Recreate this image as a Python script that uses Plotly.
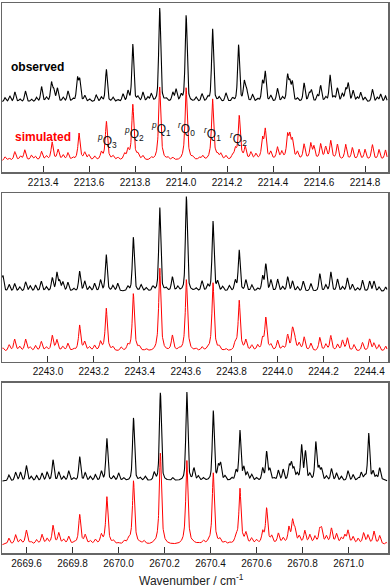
import numpy as np
import plotly.graph_objects as go

# ---------------- data (peak centres in cm^-1, peak heights in arbitrary units) -------------
# Panel 1 : 2213.2 - 2214.9
p1_range = [2213.221, 2214.900]
p1_ticks = [2213.4, 2213.6, 2213.8, 2214.0, 2214.2, 2214.4, 2214.6, 2214.8]
p1_obs_base = 70.3
p1_obs_pos = [2213.234, 2213.255, 2213.277, 2213.299, 2213.323, 2213.349, 2213.371, 2213.393, 2213.414,
              2213.436, 2213.446, 2213.462, 2213.487, 2213.508, 2213.530, 2213.549, 2213.559, 2213.581,
              2213.602, 2213.631, 2213.653, 2213.675, 2213.704, 2213.725, 2213.747, 2213.769, 2213.790,
              2213.812, 2213.834, 2213.855, 2213.870, 2213.907, 2213.935, 2213.964, 2213.978, 2214.000,
              2214.022, 2214.065, 2214.091, 2214.116, 2214.137, 2214.166, 2214.195, 2214.224, 2214.250,
              2214.275, 2214.285, 2214.311, 2214.333, 2214.354, 2214.366, 2214.390, 2214.419, 2214.441,
              2214.463, 2214.473, 2214.484, 2214.506, 2214.535, 2214.557, 2214.567, 2214.593, 2214.607,
              2214.629, 2214.648, 2214.665, 2214.680, 2214.701, 2214.716, 2214.727, 2214.748, 2214.766,
              2214.781, 2214.800, 2214.832, 2214.853, 2214.868, 2214.889]
p1_obs_amp = [4.3, 6, 10, 2.7, 11, 2.7, 4.3, 15.3, 4.3,
              18.7, 11, 13.3, 4.3, 10.7, 2.7, 22.7, 21, 6,
              2.7, 6.7, 4.3, 32.7, 4.3, 2, 7.7, 10, 57.7,
              4.3, 9.3, 4.3, 7.7, 94.3, 2.7, 8.7, 12, 6,
              87, 4.3, 7.7, 4.3, 73.3, 4.3, 8.7, 3.3, 57,
              19.3, 11, 6.7, 2.7, 19.3, 29.3, 6, 13.3, 4.3,
              25.3, 17.7, 18.7, 3.3, 18.7, 7.7, 11, 6, 16,
              4.3, 26.7, 4.3, 13.3, 7.7, 12, 17.7, 11, 4.3,
              9.3, 4.3, 12.7, 4.3, 7.7, 6]
p1_sim_base = 10.8
p1_sim_pos = [2213.234, 2213.252, 2213.277, 2213.301, 2213.320, 2213.349, 2213.366, 2213.393, 2213.414,
              2213.439, 2213.465, 2213.487, 2213.508, 2213.530, 2213.556, 2213.581, 2213.599, 2213.624,
              2213.653, 2213.675, 2213.704, 2213.725, 2213.754, 2213.769, 2213.790, 2213.812, 2213.834,
              2213.870, 2213.907, 2213.942, 2213.964, 2214.022, 2214.051, 2214.079, 2214.094, 2214.137,
              2214.159, 2214.173, 2214.195, 2214.224, 2214.236, 2214.253, 2214.279, 2214.304, 2214.325,
              2214.354, 2214.366, 2214.390, 2214.419, 2214.438, 2214.463, 2214.473, 2214.484, 2214.506,
              2214.535, 2214.564, 2214.578, 2214.607, 2214.629, 2214.651, 2214.680, 2214.716, 2214.745,
              2214.774, 2214.800, 2214.832, 2214.861, 2214.889]
p1_sim_amp = [4.3, 2.7, 9.3, 4.3, 11, 5.3, 4.3, 9.3, 4.3,
              18.7, 11, 5.3, 7.7, 2.7, 27.7, 7.7, 5.3, 4.3,
              7.7, 39.3, 4.3, 2.7, 6, 9.3, 56, 5.3, 4.3,
              2.7, 74.3, 2.7, 2.7, 73.7, 2.7, 2.7, 4.3, 62,
              4.3, 6, 4.3, 4.3, 9.3, 44.3, 12.7, 7.7, 6,
              19.3, 29.3, 7.7, 12.7, 7.7, 22, 20, 17.7, 7.7,
              16, 16, 12.7, 16, 12.7, 19.3, 16, 16, 12.7,
              11, 11, 16, 11, 11]

# Panel 2 : 2242.8 - 2244.5
p2_range = [2242.800, 2244.481]
p2_ticks = [2243.0, 2243.2, 2243.4, 2243.6, 2243.8, 2244.0, 2244.2, 2244.4]
p2_obs_base = 70.3
p2_obs_pos = [2242.804, 2242.831, 2242.855, 2242.877, 2242.903, 2242.923, 2242.946, 2242.971, 2242.993,
              2243.019, 2243.039, 2243.051, 2243.065, 2243.087, 2243.112, 2243.138, 2243.160, 2243.181,
              2243.203, 2243.229, 2243.254, 2243.283, 2243.304, 2243.348, 2243.372, 2243.406, 2243.428,
              2243.457, 2243.487, 2243.515, 2243.542, 2243.565, 2243.603, 2243.645, 2243.671, 2243.696,
              2243.719, 2243.739, 2243.761, 2243.790, 2243.816, 2243.833, 2243.862, 2243.888, 2243.913,
              2243.935, 2243.949, 2243.971, 2244.000, 2244.022, 2244.044, 2244.065, 2244.087, 2244.112,
              2244.145, 2244.184, 2244.210, 2244.232, 2244.261, 2244.283, 2244.304, 2244.326, 2244.348,
              2244.370, 2244.401, 2244.420, 2244.442, 2244.471]
p2_obs_amp = [16, 6.7, 7.7, 4.3, 9.3, 5.3, 6, 10, 4.3,
              13.3, 18.3, 9.3, 8.7, 8.7, 2.7, 20, 10, 4.3,
              7.7, 11, 36.7, 5.3, 7.7, 4.3, 54.3, 6, 3.3,
              4.3, 84.3, 2.7, 14, 4.3, 95.3, 2.7, 10, 5.3,
              70, 8.7, 4.3, 5.3, 10, 41, 11, 6, 2.7,
              14.3, 26.7, 11, 12, 4.3, 14.3, 10, 4.3, 10,
              7.7, 17.7, 6, 19.3, 12, 4.3, 13.3, 6.7, 3.3,
              11, 10, 10, 4.3, 4.3]
p2_sim_base = 9.4
p2_sim_pos = [2242.804, 2242.831, 2242.855, 2242.877, 2242.903, 2242.923, 2242.946, 2242.971, 2242.993,
              2243.019, 2243.039, 2243.065, 2243.087, 2243.112, 2243.138, 2243.160, 2243.181, 2243.203,
              2243.229, 2243.254, 2243.283, 2243.319, 2243.348, 2243.372, 2243.398, 2243.428, 2243.487,
              2243.542, 2243.572, 2243.603, 2243.645, 2243.671, 2243.696, 2243.719, 2243.746, 2243.775,
              2243.816, 2243.833, 2243.862, 2243.888, 2243.913, 2243.935, 2243.949, 2243.971, 2244.000,
              2244.022, 2244.044, 2244.065, 2244.073, 2244.094, 2244.116, 2244.145, 2244.184, 2244.210,
              2244.232, 2244.261, 2244.283, 2244.304, 2244.333, 2244.370, 2244.401, 2244.420, 2244.442,
              2244.471]
p2_sim_amp = [4, 6.7, 12.3, 4.7, 12.3, 4, 5.7, 10, 4,
              15.7, 11.3, 4.7, 8, 2.3, 26.3, 9, 4, 5.7,
              9, 43.3, 4, 4, 5.7, 58, 4, 2.3, 84,
              15.7, 2.3, 72.3, 2.3, 4, 2.3, 69, 4, 2.3,
              7.3, 50.7, 10.7, 5.7, 5.7, 10.7, 33, 5.7, 10.7,
              4, 15.7, 19, 14, 7.3, 14, 8, 14, 6.7,
              15.7, 6.7, 10.7, 13.3, 6.7, 9, 12.3, 8, 6.7,
              5.7]

# Panel 3 : 2669.5 - 2671.2
p3_range = [2669.493, 2671.172]
p3_ticks = [2669.6, 2669.8, 2670.0, 2670.2, 2670.4, 2670.6, 2670.8, 2671.0]
p3_obs_base = 72.0
p3_obs_pos = [2669.523, 2669.552, 2669.573, 2669.599, 2669.620, 2669.643, 2669.667, 2669.689, 2669.715,
              2669.740, 2669.761, 2669.783, 2669.805, 2669.831, 2669.855, 2669.877, 2669.899, 2669.925,
              2669.949, 2669.978, 2670.000, 2670.022, 2670.065, 2670.094, 2670.116, 2670.155, 2670.182,
              2670.236, 2670.297, 2670.328, 2670.347, 2670.369, 2670.412, 2670.434, 2670.444, 2670.463,
              2670.492, 2670.511, 2670.528, 2670.545, 2670.560, 2670.579, 2670.600, 2670.627, 2670.644,
              2670.658, 2670.676, 2670.695, 2670.716, 2670.742, 2670.752, 2670.763, 2670.777, 2670.796,
              2670.813, 2670.832, 2670.858, 2670.872, 2670.883, 2670.904, 2670.926, 2670.948, 2670.969,
              2670.998, 2671.020, 2671.042, 2671.056, 2671.071, 2671.088, 2671.107, 2671.121, 2671.136,
              2671.150]
p3_obs_amp = [6, 8.7, 8.7, 15.3, 4.3, 5.3, 7.7, 8.7, 21,
              8.7, 4.3, 10, 2.7, 24.3, 7.7, 4.3, 6, 9.3,
              42.7, 4.3, 7.7, 2.7, 63.3, 2.7, 4.3, 7.7, 88.7,
              2.7, 89.3, 12, 4.3, 2.7, 70, 13.3, 16, 4.3,
              2.7, 9.3, 50, 12, 7.7, 6, 2.7, 12, 28.7,
              11, 2.7, 10, 11, 14.3, 16, 11, 6, 35,
              28.7, 6, 38.3, 12, 11, 4.3, 12, 7.7, 4.3,
              10, 6, 2.7, 7.7, 4.3, 47.7, 8.7, 4.3, 12.7,
              1]
p3_sim_base = 7.6
p3_sim_pos = [2669.501, 2669.523, 2669.552, 2669.573, 2669.599, 2669.620, 2669.643, 2669.667, 2669.689,
              2669.715, 2669.740, 2669.761, 2669.783, 2669.808, 2669.831, 2669.855, 2669.877, 2669.899,
              2669.925, 2669.949, 2669.978, 2670.000, 2670.025, 2670.044, 2670.065, 2670.094, 2670.111,
              2670.152, 2670.182, 2670.297, 2670.326, 2670.347, 2670.369, 2670.391, 2670.412, 2670.441,
              2670.463, 2670.485, 2670.511, 2670.528, 2670.554, 2670.579, 2670.600, 2670.627, 2670.644,
              2670.666, 2670.695, 2670.716, 2670.741, 2670.757, 2670.767, 2670.786, 2670.810, 2670.832,
              2670.854, 2670.875, 2670.883, 2670.904, 2670.926, 2670.948, 2670.969, 2670.984, 2670.998,
              2671.020, 2671.042, 2671.066, 2671.085, 2671.111, 2671.136, 2671.165]
p3_sim_amp = [0.7, 6.7, 10, 4.7, 14.7, 2.3, 4.7, 10, 5.7,
              19, 11.3, 4.7, 8, 2.3, 30, 9, 3.3, 4.7,
              9, 48, 3.3, 1.3, 3.3, 4.7, 64, 1.3, 3.3,
              0.7, 92.3, 84.7, 1.3, 1.3, 3.3, 1.3, 72, 4.7,
              2.3, 1.3, 7.3, 55.7, 10.7, 5.7, 4, 11.3, 35.7,
              7.3, 10.7, 5.7, 15.7, 21.3, 12.3, 7.3, 13.3, 9,
              7.3, 12.3, 13.3, 7.3, 15.7, 10, 5.7, 8, 13.3,
              7.3, 5.7, 11.3, 9, 13.3, 9, 2.3]

# Q-branch labels (panel 1)
q_labels = ["<sup><i>p</i></sup>Q<sub>3</sub>", "<sup><i>p</i></sup>Q<sub>2</sub>",
            "<sup><i>p</i></sup>Q<sub>1</sub>", "<sup><i>r</i></sup>Q<sub>0</sub>",
            "<sup><i>r</i></sup>Q<sub>1</sub>", "<sup><i>r</i></sup>Q<sub>2</sub>"]
q_x = [2213.677, 2213.794, 2213.913, 2214.024, 2214.137, 2214.249]
q_y = [32.0, 38.7, 43.7, 43.3, 38.7, 33.7]

# ---------------- rendering ----------------
FONT = "Arial, Liberation Sans, Helvetica, sans-serif"


def spectrum(xr, pos, amp, base, g, eta):
    x = np.arange(xr[0] + 0.002, xr[1] - 0.004, 0.0007)
    d = x[:, None] - np.asarray(pos)[None, :]
    lor = g * g / (d * d + g * g)
    gau = np.exp(-np.log(2) * (d / g) ** 2)
    y = base + ((eta * lor + (1 - eta) * gau) * np.asarray(amp)[None, :]).sum(axis=1)
    return x, y


panels = [
    (p1_range, p1_ticks, p1_obs_pos, p1_obs_amp, p1_obs_base, p1_sim_pos, p1_sim_amp, p1_sim_base, 170, [0.692, 1.0]),
    (p2_range, p2_ticks, p2_obs_pos, p2_obs_amp, p2_obs_base, p2_sim_pos, p2_sim_amp, p2_sim_base, 169, [0.3478, 0.654]),
    (p3_range, p3_ticks, p3_obs_pos, p3_obs_amp, p3_obs_base, p3_sim_pos, p3_sim_amp, p3_sim_base, 171, [0.0, 0.3098]),
]

fig = go.Figure()
layout = dict(
    width=391, height=588,
    margin=dict(l=2, r=2, t=1, b=35),
    paper_bgcolor="white", plot_bgcolor="white",
    showlegend=False,
    font=dict(family=FONT, size=10, color="#111"),
)

for i, (xr, ticks, op, oa, ob, sp, sa, sb, ymax, dom) in enumerate(panels):
    n = "" if i == 0 else str(i + 1)
    xs, ys = spectrum(xr, sp, sa, sb, 0.0055, 1.0)
    xo, yo = spectrum(xr, op, oa, ob, 0.0050, 0.55)
    fig.add_trace(go.Scatter(x=xs, y=ys, mode="lines", line=dict(color="#ff0000", width=1.0),
                             xaxis="x" + n, yaxis="y" + n, hoverinfo="skip"))
    fig.add_trace(go.Scatter(x=xo, y=yo, mode="lines", line=dict(color="#000000", width=1.1),
                             xaxis="x" + n, yaxis="y" + n, hoverinfo="skip"))
    layout["xaxis" + n] = dict(
        domain=[0, 1], anchor="y" + n, range=xr,
        tickmode="array", tickvals=ticks, ticktext=[f"{t:.1f}" for t in ticks],
        ticks="inside", ticklen=6, tickwidth=1, tickcolor="#333",
        showline=True, linecolor="#666", linewidth=1.5, mirror=True,
        showgrid=False, zeroline=False,
        tickfont=dict(family=FONT, size=10, color="#111"),
    )
    layout["yaxis" + n] = dict(
        domain=dom, anchor="x" + n, range=[0, ymax],
        showticklabels=False, ticks="", showgrid=False, zeroline=False,
        showline=True, linecolor="#666", linewidth=1.5, mirror=True,
    )

annotations = [
    dict(text="<b>observed</b>", x=0.018, y=105.3, xref="paper", yref="y", xanchor="left", yanchor="middle",
         showarrow=False, font=dict(family=FONT, size=12, color="#000")),
    dict(text="<b>simulated</b>", x=0.028, y=36.0, xref="paper", yref="y", xanchor="left", yanchor="middle",
         showarrow=False, font=dict(family=FONT, size=12, color="#ff0000")),
    dict(text="Wavenumber / cm<sup>-1</sup>", x=0.49, y=-0.049, xref="paper", yref="paper",
         xanchor="center", yanchor="middle", showarrow=False, font=dict(family=FONT, size=12, color="#222")),
]
for t, qx, qy in zip(q_labels, q_x, q_y):
    annotations.append(dict(text=t, x=qx, y=qy, xref="x", yref="y", xanchor="center", yanchor="middle",
                            showarrow=False, font=dict(family=FONT, size=12, color="#111")))
layout["annotations"] = annotations

fig.update_layout(**layout)
fig.write_html("out.html", config={"displayModeBar": False, "staticPlot": True},
               post_script="document.body.style.margin='0';document.body.style.overflow='hidden';")
